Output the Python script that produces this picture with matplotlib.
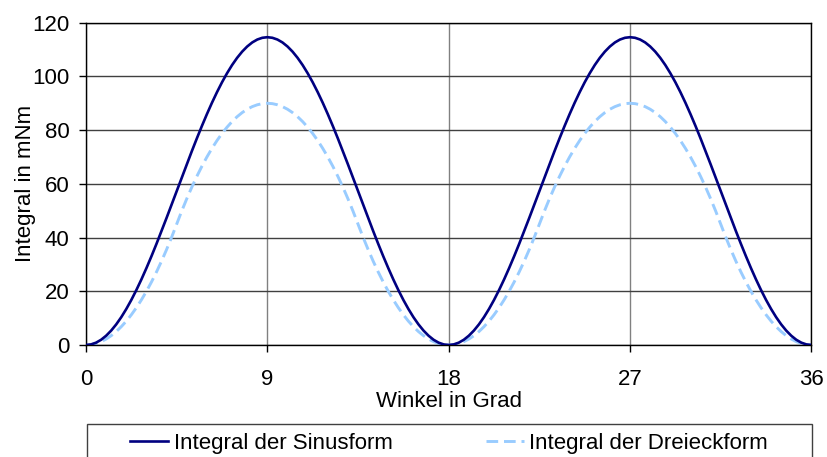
import matplotlib
matplotlib.use("Agg")
import matplotlib.pyplot as plt
from matplotlib.patches import Rectangle

plt.rcParams['font.family'] = ['Liberation Sans', 'DejaVu Sans']

# Winkel in Grad (0 .. 36, step 0.25)
winkel = [i * 0.25 for i in range(145)]

# one half-period (0 .. 9 deg)
sinus_rise = [0, 0.22, 0.87, 1.95, 3.46, 5.37, 7.68, 10.36, 13.41, 16.78, 20.47, 24.43,
              28.65, 33.08, 37.70, 42.47, 47.35, 52.31, 57.30, 62.29, 67.25, 72.13, 76.90,
              81.52, 85.95, 90.17, 94.13, 97.82, 101.19, 104.24, 106.92, 109.23, 111.14,
              112.65, 113.73, 114.38, 114.6]
dreieck_rise = [0, 0.14, 0.56, 1.25, 2.22, 3.47, 5.0, 6.81, 8.89, 11.25, 13.89, 16.81,
                20.0, 23.47, 27.22, 31.25, 35.56, 40.14, 45.0, 49.86, 54.44, 58.75, 62.78,
                66.53, 70.0, 73.19, 76.11, 78.75, 81.11, 83.19, 85.0, 86.53, 87.78, 88.75,
                89.44, 89.86, 90.0]

sinus_period = sinus_rise + sinus_rise[-2:0:-1]
dreieck_period = dreieck_rise + dreieck_rise[-2:0:-1]
sinus = sinus_period + sinus_period + [0]
dreieck = dreieck_period + dreieck_period + [0]

x_ticks = [0, 9, 18, 27, 36]
y_ticks = [0, 20, 40, 60, 80, 100, 120]

FS = 16

fig = plt.figure(figsize=(8.27, 4.57), dpi=100)
ax = fig.add_axes([86/827, 1 - 345/457, (811.4 - 86)/827, (345 - 22.7)/457])

ax.set_xlim(0, 36)
ax.set_ylim(0, 120)
ax.set_xticks(x_ticks)
ax.set_yticks(y_ticks)
ax.grid(True, axis='y', color='#404040', linewidth=1.0)
ax.grid(True, axis='x', color='#808080', linewidth=1.0)
ax.set_axisbelow(True)

l1, = ax.plot(winkel, sinus, color='#000080', linewidth=1.9, label='Integral der Sinusform',
              zorder=3)
l2, = ax.plot(winkel, dreieck, color='#99CCFF', linewidth=2.1, linestyle=(0, (4, 2)),
              label='Integral der Dreieckform', zorder=2)

for s in ax.spines.values():
    s.set_color('black')
    s.set_linewidth(1.0)

ax.tick_params(axis='both', direction='out', length=5, width=1, color='black',
               labelsize=FS, labelcolor='black')
ax.tick_params(axis='x', pad=12)
ax.tick_params(axis='y', pad=7)

ax.set_xlabel('Winkel in Grad', fontsize=FS, labelpad=1)
ax.set_ylabel('Integral in mNm', fontsize=FS)
ax.yaxis.set_label_coords(-0.069, 0.5)

# legend frame (cut off at the bottom as in the reference)
rect = Rectangle((87/827, -0.2), (812 - 87)/827, 0.2 + 33/457, transform=fig.transFigure,
                 facecolor='white', edgecolor='#404040', linewidth=1.0, clip_on=False)
fig.patches.append(rect)

fig.legend(handles=[l1, l2], loc='center', bbox_to_anchor=(449/827, 1 - 443/457),
           ncol=2, frameon=False, fontsize=FS, handlelength=1.7, handletextpad=0.25,
           columnspacing=4.2, borderaxespad=0, borderpad=0)

fig.savefig('out.png', dpi=100)
